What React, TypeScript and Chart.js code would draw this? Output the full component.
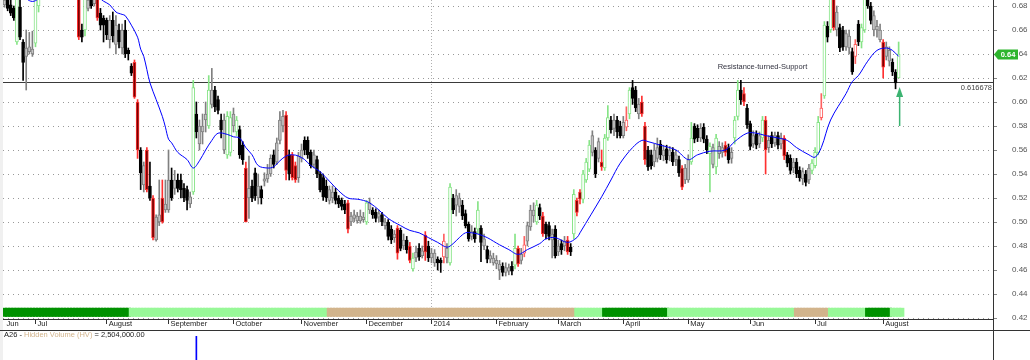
import React, { useEffect, useRef } from 'react';
import { Chart, registerables } from 'chart.js';

Chart.register(...registerables);

const FONT = "'Liberation Sans', Arial, sans-serif";
const N_SLOTS = 320;

const MONTH_IDX = [0, 10, 33, 53, 74, 96, 117, 138, 159, 179, 200, 221, 241, 262, 284];
const MONTH_NAMES = ['Jun', 'Jul', 'August', 'September', 'October', 'November', 'December', '2014', 'February', 'March', 'April', 'May', 'Jun', 'Jul', 'August'];
const YEAR_IDX = 138;

const Y_MIN = 0.419167;
const Y_MAX = 0.685;
const Y_TICKS = [0.42, 0.44, 0.46, 0.48, 0.5, 0.52, 0.54, 0.56, 0.58, 0.6, 0.62, 0.64, 0.66, 0.68];

const OPEN = [
  .685,.690,.681,.678,.650,.679,.650,.638,.642,.644,
  .649,.680,.690,.700,.705,.710,.705,.712,.715,.710,
  .705,.708,.700,.705,.700,.660,.660,.685,.690,.690,
  .695,.674,.670,.668,.668,.668,.664,.660,.660,.660,
  .643,.630,.633,.600,.560,.547,.560,.530,.520,.485,
  .500,.520,.510,.510,.535,.528,.535,.535,.528,.527,
  .515,.525,.590,.580,.575,.585,.580,.610,.610,.602,
  .585,.585,.556,.558,.590,.575,.577,.564,.545,.520,
  .530,.541,.520,.527,.534,.536,.540,.556,.550,.568,
  .580,.589,.556,.556,.547,.537,.553,.568,.568,.558,
  .548,.552,.540,.537,.530,.518,.520,.525,.520,.518,
  .515,.516,.500,.503,.505,.501,.504,.500,.516,.510,
  .508,.504,.506,.500,.500,.494,.487,.495,.493,.480,
  .485,.480,.461,.470,.478,.472,.489,.480,.470,.474,
  .469,.468,.471,.478,.466,.520,.514,.520,.514,.507,
  .498,.488,.492,.494,.495,.486,.477,.469,.470,.465,
  .465,.463,.458,.462,.463,.464,.478,.468,.474,.484,
  .496,.505,.500,.512,.505,.498,.497,.490,.494,.475,
  .482,.480,.485,.479,.490,.518,.525,.519,.535,.544,
  .558,.560,.553,.550,.545,.570,.585,.578,.585,.580,
  .572,.579,.590,.612,.610,.590,.600,.580,.560,.556,
  .550,.553,.565,.555,.561,.555,.558,.552,.552,.545,
  .535,.535,.550,.580,.578,.570,.579,.569,.557,.562,
  .546,.563,.558,.564,.562,.553,.570,.588,.610,.607,
  .595,.582,.565,.573,.565,.570,.585,.562,.572,.566,
  .572,.565,.570,.556,.553,.545,.550,.543,.536,.540,
  .535,.543,.547,.558,.587,.605,.663,.660,.690,.675,
  .662,.660,.646,.655,.642,.638,.665,.650,.660,.690,
  .680,.672,.663,.660,.650,.638,.643,.633,.625,.620
];
const HIGH = [
  .690,.695,.686,.680,.700,.685,.652,.660,.658,.659,
  .700,.705,.705,.710,.715,.715,.718,.720,.720,.714,
  .712,.712,.710,.710,.705,.665,.700,.690,.695,.695,
  .700,.678,.672,.670,.672,.675,.672,.665,.665,.668,
  .645,.632,.635,.602,.562,.550,.562,.550,.522,.506,
  .535,.535,.535,.560,.545,.543,.540,.540,.532,.530,
  .525,.618,.600,.585,.590,.600,.622,.628,.613,.605,
  .590,.590,.592,.592,.595,.588,.580,.567,.550,.555,
  .535,.545,.540,.530,.541,.548,.556,.560,.570,.592,
  .593,.592,.560,.558,.550,.558,.565,.571,.571,.560,
  .560,.555,.542,.540,.535,.530,.530,.528,.522,.520,
  .518,.518,.508,.510,.508,.510,.508,.518,.520,.512,
  .511,.510,.508,.503,.502,.497,.493,.497,.495,.490,
  .488,.483,.474,.480,.482,.480,.492,.484,.478,.477,
  .471,.470,.490,.482,.532,.523,.527,.524,.518,.510,
  .500,.497,.495,.517,.497,.490,.480,.476,.474,.472,
  .468,.466,.466,.465,.467,.490,.480,.478,.488,.500,
  .514,.516,.518,.515,.508,.500,.500,.494,.497,.485,
  .485,.488,.488,.482,.527,.520,.527,.543,.553,.568,
  .576,.562,.570,.560,.573,.597,.588,.590,.588,.584,
  .588,.596,.612,.618,.613,.603,.605,.583,.563,.560,
  .565,.570,.568,.564,.564,.563,.562,.560,.555,.547,
  .548,.556,.583,.582,.581,.582,.582,.572,.566,.565,
  .573,.567,.566,.567,.565,.562,.588,.618,.618,.612,
  .598,.584,.576,.576,.575,.588,.588,.572,.575,.575,
  .575,.574,.572,.558,.556,.553,.553,.546,.545,.543,
  .548,.552,.562,.588,.607,.667,.667,.700,.700,.680,
  .665,.663,.660,.660,.645,.652,.668,.665,.700,.700,
  .683,.676,.668,.665,.652,.650,.646,.636,.627,.650
];
const LOW = [
  .679,.676,.672,.668,.648,.652,.618,.610,.640,.638,
  .646,.675,.688,.695,.700,.700,.700,.708,.706,.700,
  .700,.696,.695,.692,.652,.650,.655,.676,.678,.680,
  .668,.660,.650,.652,.645,.650,.640,.645,.640,.637,
  .635,.622,.603,.553,.527,.525,.525,.518,.485,.484,
  .497,.499,.508,.508,.518,.523,.525,.520,.517,.510,
  .512,.523,.570,.560,.565,.575,.578,.595,.592,.590,
  .570,.557,.553,.555,.575,.572,.553,.548,.500,.503,
  .517,.518,.515,.515,.530,.533,.538,.545,.548,.565,
  .575,.535,.535,.535,.533,.533,.550,.556,.553,.545,
  .545,.537,.525,.518,.517,.515,.516,.515,.512,.510,
  .507,.491,.497,.500,.499,.499,.500,.498,.507,.503,
  .500,.500,.497,.494,.485,.482,.483,.469,.476,.477,
  .474,.466,.459,.467,.468,.470,.468,.467,.466,.463,
  .460,.458,.466,.466,.464,.507,.505,.508,.502,.495,
  .484,.485,.483,.490,.467,.477,.466,.466,.464,.461,
  .452,.455,.455,.456,.456,.461,.463,.465,.471,.480,
  .493,.500,.498,.502,.488,.486,.485,.470,.470,.472,
  .473,.476,.473,.472,.486,.505,.515,.516,.533,.542,
  .555,.537,.550,.543,.543,.568,.574,.572,.570,.570,
  .570,.576,.586,.598,.592,.586,.588,.548,.543,.544,
  .546,.550,.552,.551,.549,.551,.547,.547,.538,.527,
  .532,.533,.548,.566,.567,.567,.566,.557,.525,.545,
  .540,.553,.554,.555,.549,.549,.565,.585,.598,.597,
  .578,.560,.562,.561,.562,.567,.540,.558,.562,.563,
  .561,.561,.552,.546,.540,.541,.537,.534,.531,.530,
  .532,.540,.545,.556,.585,.603,.650,.658,.660,.655,
  .642,.643,.643,.640,.623,.632,.647,.645,.658,.678,
  .665,.655,.654,.650,.620,.635,.630,.622,.611,.620
];
const CLOSE = [
  .681,.678,.674,.670,.690,.654,.633,.645,.646,.640,
  .690,.700,.700,.705,.710,.705,.712,.715,.710,.705,
  .708,.700,.705,.700,.654,.654,.690,.678,.680,.682,
  .670,.664,.664,.656,.652,.655,.648,.650,.645,.640,
  .640,.624,.604,.560,.541,.531,.527,.520,.487,.504,
  .506,.500,.515,.535,.520,.535,.528,.527,.520,.518,
  .521,.612,.575,.565,.580,.590,.610,.598,.596,.593,
  .577,.560,.588,.587,.580,.585,.556,.552,.500,.528,
  .520,.522,.530,.520,.536,.540,.553,.548,.566,.585,
  .588,.543,.540,.537,.535,.555,.560,.560,.556,.547,
  .556,.540,.527,.521,.520,.527,.525,.518,.515,.513,
  .510,.494,.505,.506,.501,.505,.502,.516,.510,.506,
  .503,.507,.500,.497,.488,.485,.490,.474,.478,.485,
  .477,.468,.470,.475,.471,.476,.475,.470,.474,.466,
  .466,.466,.484,.470,.529,.510,.522,.513,.505,.497,
  .486,.492,.486,.510,.483,.480,.469,.472,.466,.468,
  .460,.458,.462,.459,.459,.478,.465,.473,.481,.497,
  .510,.510,.514,.505,.490,.490,.488,.485,.472,.480,
  .477,.484,.475,.475,.523,.508,.519,.540,.550,.564,
  .572,.540,.567,.546,.570,.587,.577,.585,.575,.572,
  .583,.585,.610,.603,.595,.598,.590,.552,.546,.547,
  .560,.562,.556,.560,.552,.560,.550,.556,.541,.529,
  .545,.552,.570,.569,.570,.578,.569,.560,.563,.548,
  .570,.557,.562,.558,.552,.558,.585,.610,.602,.600,
  .581,.563,.572,.564,.572,.585,.560,.568,.565,.572,
  .564,.570,.555,.549,.543,.550,.540,.537,.542,.533,
  .545,.549,.558,.583,.595,.664,.654,.690,.662,.660,
  .645,.646,.657,.645,.625,.648,.650,.662,.690,.680,
  .668,.660,.660,.652,.629,.646,.634,.625,.616,.640
];
// k = black, y = grey, g = green (hollow), r = dark red, h = red hollow
const STYLE = (
  'ykkkgkkyyy' + 'gggygkygkk' + 'ykykrkgyky' + 'rkkkykykyk' + 'kkrrkyrkry' +
  'yryykykkkk' + 'ygkyyygykk' + 'kyggygkkry' + 'kkykyyykyy' + 'yrkrryykkk' +
  'ykkkkyykkk' + 'kryyyyygyk' + 'kykykkyrky' + 'krgykyrkyy' + 'kkhygkyykk' +
  'kykgkykyyy' + 'ykyykgryhy' + 'yygkrkkyky' + 'kyrkgrrggg' + 'ykyrggkykk' +
  'yhgkkyrrkk' + 'yykykykykr' + 'yygkkykkgy' + 'gyyrkyggkr' + 'kkykygryky' +
  'kyrkkykkyk' + 'yggghgkgry' + 'kkyykhkggk' + 'kyyyryykkg'
).split('');

const MA_IDX = [0,5,9,13,20,27,31,32,34,36,38,39,41,43,44,45,46,47,49,51,52,53,54,56,59,61,63,65,67,69,72,74,76,78,80,82,85,87,89,91,93,95,97,99,102,105,108,111,114,116,118,121,124,128,131,134,137,140,143,145,147,149,151,153,156,158,160,163,166,169,173,175,178,182,185,186,193,196,199,203,206,208,212,217,221,224,228,233,236,240,243,246,250,253,256,260,262,264,267,272,274,276,279,282,285,287,289];
const MA_VAL = [.695,.690,.6838,.690,.700,.695,.686,.684,.681,.675,.673,.672,.664,.654,.644,.638,.627,.616,.602,.588,.579,.569,.566,.558,.552,.545,.551,.560,.568,.574,.573,.571,.570,.562,.556,.547,.545,.546,.551,.555,.556,.555,.552,.547,.542,.534,.526,.520,.519,.518,.516,.510,.503,.497,.493,.491,.487,.483,.479,.482,.487,.491,.491,.490,.487,.484,.481,.477,.473,.477,.482,.486,.487,.483,.487,.491,.521,.535,.549,.562,.568,.567,.564,.560,.552,.556,.559,.560,.567,.574,.574,.572,.570,.568,.562,.556,.554,.562,.585,.607,.617,.622,.634,.643,.645,.643,.638];

const BAND_START = [0, 41, 105, 185, 194, 215, 256, 267, 279, 287];
const BAND_END = [41, 105, 185, 194, 215, 256, 267, 279, 287, 291];
const BAND_KIND = ['dark', 'light', 'tan', 'light', 'dark', 'light', 'tan', 'light', 'dark', 'light'];
const BAND_LOW = 0.421;
const BAND_HIGH = 0.4285;

const SUPPORT_LEVEL = 0.616678;
const NOTE_TEXT = 'Resistance-turned-Support';
const NOTE_IDX = 231;
const NOTE_LEVEL = 0.6292;
const ARROW_IDX = 289;
const ARROW_BASE = 0.58;
const ARROW_TIP = 0.6125;

const HV_IDX = 62;
const HV_VALUE = 2504000;
const HV_SYMBOL = 'A26';

const FILL: Record<string, string> = { k: '#000000', y: '#c4c4c4', g: '#ffffff', r: '#7a0000', h: '#ffffff' };
const EDGE: Record<string, string> = { k: '#000000', y: '#808080', g: '#86e486', r: '#ff3030', h: '#ff6060' };
const BAND_COLORS: Record<string, string> = { dark: '#009100', light: '#98f898', tan: '#d2b48c' };

const LABELS: string[] = new Array(N_SLOTS).fill('');
MONTH_IDX.forEach((i, k) => { LABELS[i] = MONTH_NAMES[k]; });

function slots<T>(fn: (i: number) => T | null): (T | null)[] {
  const out: (T | null)[] = [];
  for (let i = 0; i < N_SLOTS; i++) out.push(fn(i));
  return out;
}

export default function App() {
  const mainRef = useRef<HTMLCanvasElement>(null);
  const subRef = useRef<HTMLCanvasElement>(null);

  useEffect(() => {
    document.body.style.margin = '0';
    const n = OPEN.length;
    const bodyData = slots((i) => (i < n ? [Math.min(OPEN[i], CLOSE[i]), Math.max(OPEN[i], CLOSE[i])] : null));
    const wickData = slots((i) => (i < n ? [LOW[i], HIGH[i]] : null));
    const fills = slots((i) => (i < n ? FILL[STYLE[i]] : '#000'));
    const edges = slots((i) => (i < n ? EDGE[STYLE[i]] : '#000'));
    const bandKindAt = (i: number) => {
      for (let k = 0; k < BAND_START.length; k++) if (i >= BAND_START[k] && i < BAND_END[k]) return BAND_KIND[k];
      return null;
    };
    const bandData = slots((i) => (bandKindAt(i) ? [BAND_LOW, BAND_HIGH] : null));
    const bandColors = slots((i) => { const k = bandKindAt(i); return k ? BAND_COLORS[k] : '#fff'; });
    const maData: (number | null)[] = new Array(N_SLOTS).fill(null);
    MA_IDX.forEach((i, k) => { maData[i] = MA_VAL[k]; });

    const overlay = {
      id: 'overlay',
      beforeDraw(chart: any) {
        const { ctx, width, height, chartArea } = chart;
        ctx.save();
        ctx.fillStyle = '#ffffff';
        ctx.fillRect(0, 0, width, height);
        ctx.fillStyle = '#f0f0f0';
        ctx.fillRect(0, 0, Math.floor(chartArea.left), height);
        ctx.restore();
      },
      beforeDatasetsDraw(chart: any) {
        const { ctx, chartArea, scales } = chart;
        const y = Math.round(scales.y.getPixelForValue(SUPPORT_LEVEL)) + 0.5;
        ctx.save();
        ctx.strokeStyle = '#3a3a3a';
        ctx.lineWidth = 1;
        ctx.beginPath();
        ctx.moveTo(chartArea.left, y);
        ctx.lineTo(chartArea.right, y);
        ctx.stroke();
        ctx.restore();
      },
      afterDatasetsDraw(chart: any) {
        const { ctx, chartArea, scales } = chart;
        const x = scales.x;
        const yS = scales.y;
        ctx.save();
        const ly = Math.round(yS.getPixelForValue(SUPPORT_LEVEL));
        ctx.font = `7.5px ${FONT}`;
        ctx.fillStyle = '#444444';
        ctx.textAlign = 'right';
        ctx.textBaseline = 'top';
        ctx.fillText(String(SUPPORT_LEVEL), chartArea.right - 1, ly + 2);
        const w = x.getPixelForValue(1) - x.getPixelForValue(0);
        ctx.textAlign = 'left';
        ctx.textBaseline = 'middle';
        ctx.fillStyle = '#333340';
        ctx.fillText(NOTE_TEXT, x.getPixelForValue(NOTE_IDX) - w / 2, yS.getPixelForValue(NOTE_LEVEL));
        const ax = x.getPixelForValue(ARROW_IDX) + 1;
        const yb = yS.getPixelForValue(ARROW_BASE);
        const yt = yS.getPixelForValue(ARROW_TIP);
        ctx.strokeStyle = '#3cb371';
        ctx.fillStyle = '#3cb371';
        ctx.lineWidth = 1.5;
        ctx.beginPath();
        ctx.moveTo(ax, yb);
        ctx.lineTo(ax, yt + 8);
        ctx.stroke();
        ctx.beginPath();
        ctx.moveTo(ax, yt);
        ctx.lineTo(ax - 3.5, yt + 10);
        ctx.lineTo(ax + 3.5, yt + 10);
        ctx.closePath();
        ctx.fill();
        ctx.restore();
      },
      afterDraw(chart: any) {
        const { ctx, chartArea, scales, width, height } = chart;
        ctx.save();
        ctx.fillStyle = '#333333';
        ctx.fillRect(Math.floor(chartArea.right), Math.floor(chartArea.bottom), 1, height - Math.floor(chartArea.bottom));
        ctx.fillRect(0, height - 1, width, 1);
        const last = CLOSE[CLOSE.length - 1];
        const py = Math.round(scales.y.getPixelForValue(last)) + 0.5;
        const x0 = Math.floor(chartArea.right) + 1;
        ctx.fillStyle = '#2db52d';
        ctx.beginPath();
        ctx.moveTo(x0, py);
        ctx.lineTo(x0 + 4, py - 5);
        ctx.lineTo(x0 + 24, py - 5);
        ctx.lineTo(x0 + 24, py + 5);
        ctx.lineTo(x0 + 4, py + 5);
        ctx.closePath();
        ctx.fill();
        ctx.fillStyle = '#ffffff';
        ctx.font = `bold 7.5px ${FONT}`;
        ctx.textAlign = 'center';
        ctx.textBaseline = 'middle';
        ctx.fillText(last.toFixed(2), x0 + 14, py);
        ctx.restore();
      },
    };

    const main = new Chart(mainRef.current as HTMLCanvasElement, {
      type: 'bar',
      data: {
        labels: LABELS,
        datasets: [
          { type: 'line', data: maData, borderColor: '#0000ff', borderWidth: 1, pointRadius: 0, spanGaps: true, tension: 0.35, order: 0, clip: 0 } as any,
          { type: 'bar', data: bodyData, backgroundColor: fills, borderColor: edges, borderWidth: 1, borderSkipped: false, barThickness: 3, grouped: false, order: 1, clip: 0 } as any,
          { type: 'bar', data: wickData, backgroundColor: edges, borderWidth: 0, barThickness: 1, grouped: false, order: 2, clip: 0 } as any,
          { type: 'bar', data: bandData, backgroundColor: bandColors, borderWidth: 0, inflateAmount: 0, barPercentage: 1.7, categoryPercentage: 1, grouped: false, order: 3, clip: 0 } as any,
        ],
      },
      options: {
        animation: false,
        responsive: false,
        maintainAspectRatio: false,
        devicePixelRatio: 1,
        events: [],
        layout: { padding: { left: 3, right: 0, top: 0, bottom: 0 } },
        plugins: { legend: { display: false }, tooltip: { enabled: false } },
        scales: {
          x: {
            type: 'category',
            offset: true,
            afterBuildTicks: (s: any) => { s.ticks = MONTH_IDX.map((v) => ({ value: v })); },
            afterFit: (s: any) => { s.height = 12; s.paddingLeft = 0; s.paddingRight = 0; },
            grid: {
              offset: false,
              color: (c: any) => (c.tick && c.tick.value === YEAR_IDX ? '#b0b0b0' : 'rgba(0,0,0,0)'),
              lineWidth: 1,
              drawTicks: true,
              tickLength: 5,
              tickWidth: 1,
              tickColor: (c: any) => (c.tick && c.tick.value === 0 ? 'rgba(0,0,0,0)' : '#333333'),
              tickBorderDash: [],
            },
            border: { display: true, color: '#333333', width: 1, dash: [1, 2] },
            ticks: {
              autoSkip: false,
              maxRotation: 0,
              minRotation: 0,
              align: 'start',
              labelOffset: 2,
              padding: -5,
              color: '#222222',
              font: { family: FONT, size: 7.5 },
            },
          } as any,
          y: {
            type: 'linear',
            position: 'right',
            min: Y_MIN,
            max: Y_MAX,
            afterBuildTicks: (s: any) => { s.ticks = Y_TICKS.map((v) => ({ value: v })); },
            afterFit: (s: any) => { s.width = 37; s.paddingTop = 0; s.paddingBottom = 0; },
            grid: { color: '#999999', lineWidth: 1, drawTicks: true, tickLength: 4, tickColor: '#888888', tickBorderDash: [] },
            border: { display: true, color: '#333333', width: 1, dash: [1, 4] },
            ticks: {
              padding: 15,
              color: '#555555',
              font: { family: FONT, size: 8 },
              callback: (v: any) => Number(v).toFixed(2),
            },
          } as any,
        },
      },
      plugins: [overlay],
    });

    const subOverlay = {
      id: 'subOverlay',
      beforeDraw(chart: any) {
        const { ctx, width, height, chartArea } = chart;
        ctx.save();
        ctx.fillStyle = '#ffffff';
        ctx.fillRect(0, 0, width, height);
        ctx.fillStyle = '#f0f0f0';
        ctx.fillRect(0, 0, Math.floor(chartArea.left), height);
        ctx.restore();
      },
      afterDraw(chart: any) {
        const { ctx, height, chartArea } = chart;
        ctx.save();
        ctx.fillStyle = '#333333';
        ctx.fillRect(Math.floor(chartArea.right), 0, 1, height);
        ctx.font = `7.5px ${FONT}`;
        ctx.textBaseline = 'middle';
        ctx.textAlign = 'left';
        let tx = 4;
        const parts: [string, string][] = [
          [`${HV_SYMBOL} - `, '#222222'],
          ['Hidden Volume (HV)', '#d2b48c'],
          [` = ${HV_VALUE.toLocaleString('en-US', { minimumFractionDigits: 2, maximumFractionDigits: 2 })}`, '#222222'],
        ];
        parts.forEach(([t, c]) => {
          ctx.fillStyle = c;
          ctx.fillText(t, tx, 4);
          tx += ctx.measureText(t).width;
        });
        ctx.restore();
      },
    };

    const hvData = slots((i) => (i === HV_IDX ? HV_VALUE : null));
    const sub = new Chart(subRef.current as HTMLCanvasElement, {
      type: 'bar',
      data: {
        labels: LABELS,
        datasets: [{ data: hvData, backgroundColor: '#0000ff', borderWidth: 0, barThickness: 1 } as any],
      },
      options: {
        animation: false,
        responsive: false,
        maintainAspectRatio: false,
        devicePixelRatio: 1,
        events: [],
        layout: { padding: { left: 3, right: 37, top: 5, bottom: 0 } },
        plugins: { legend: { display: false }, tooltip: { enabled: false } },
        scales: {
          x: { type: 'category', display: false, offset: true },
          y: { type: 'linear', display: false, min: 0, max: HV_VALUE },
        },
      },
      plugins: [subOverlay],
    });

    return () => {
      main.destroy();
      sub.destroy();
    };
  }, []);

  return (
    <div style={{ width: 1030, height: 360, background: '#ffffff' }}>
      <canvas ref={mainRef} width={1030} height={331} style={{ display: 'block' }} />
      <canvas ref={subRef} width={1030} height={29} style={{ display: 'block' }} />
    </div>
  );
}
